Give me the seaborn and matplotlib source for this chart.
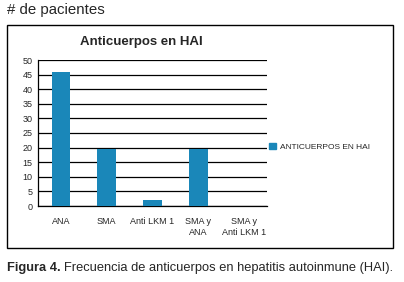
import pandas as pd
import matplotlib
matplotlib.use("Agg")
import matplotlib.pyplot as plt
import matplotlib.patches as mpatches
import seaborn as sns

# -------- DATA --------
categories = ["ANA", "SMA", "Anti LKM 1", "SMA y\nANA", "SMA y\nAnti LKM 1"]
values = [46, 19.5, 2, 19.5, 0]
y_ticks = [0, 5, 10, 15, 20, 25, 30, 35, 40, 45, 50]
series_name = "ANTICUERPOS EN HAI"

bar_color = "#1a87b9"

df = pd.DataFrame({"Categoria": categories, "Pacientes": values})

# -------- PLOT --------
sns.set_style("white")
plt.rcParams["font.family"] = ["Liberation Sans", "DejaVu Sans"]

fig = plt.figure(figsize=(4.04, 2.82), dpi=100)
ax = fig.add_axes([38 / 404, 76 / 282, 229 / 404, 146 / 282])

sns.barplot(data=df, x="Categoria", y="Pacientes", color=bar_color,
            width=0.41, saturation=1, linewidth=0, ax=ax, zorder=3)

ax.set_ylim(0, 50)
ax.set_xlim(-0.5, len(categories) - 0.5)
ax.set_yticks(y_ticks)
ax.yaxis.grid(True, color="black", linewidth=0.9, zorder=0)
ax.set_axisbelow(True)
ax.set_xlabel("")
ax.set_ylabel("")

for s in ["top", "right"]:
    ax.spines[s].set_visible(False)
for s in ["left", "bottom"]:
    ax.spines[s].set_color("black")
    ax.spines[s].set_linewidth(0.9)

ax.tick_params(axis="y", labelsize=6.5, length=3, width=0.8, color="black", pad=1)
ax.tick_params(axis="x", which="major", labelsize=6.5, length=0, pad=8)
ax.set_xticks([i + 0.5 for i in range(-1, len(categories))], minor=True)
ax.tick_params(axis="x", which="minor", length=3, width=0.8, color="black")
for lbl in ax.get_xticklabels():
    lbl.set_verticalalignment("top")
    lbl.set_linespacing(1.2)

# title inside the chart box
fig.text(141 / 404, 1 - 42 / 282, "Anticuerpos en HAI", ha="center", va="center",
         fontsize=9.5, fontweight="bold")

# legend
handle = mpatches.Patch(color=bar_color, label=series_name)
fig.legend(handles=[handle], loc="center left", bbox_to_anchor=(266 / 404, 1 - 147 / 282),
           frameon=False, fontsize=6, handlelength=0.8, handleheight=0.8,
           handletextpad=0.5, borderaxespad=0)

# outer frame
frame = mpatches.Rectangle((7 / 404, 1 - 248 / 282), 386 / 404, 223 / 282,
                           transform=fig.transFigure, fill=False,
                           edgecolor="black", linewidth=1.0)
fig.patches.append(frame)

# header and caption
fig.text(7 / 404, 1 - 10 / 282, "# de pacientes", ha="left", va="center", fontsize=10.8)
cap1 = fig.text(7 / 404, 1 - 268 / 282, "Figura 4.", ha="left", va="center",
                fontsize=9.3, fontweight="bold")
fig.canvas.draw()
bb = cap1.get_window_extent()
fig.text(bb.x1 / fig.bbox.width + 3 / 404, 1 - 268 / 282,
         "Frecuencia de anticuerpos en hepatitis autoinmune (HAI).",
         ha="left", va="center", fontsize=9.3)

fig.savefig("out.png", dpi=100)
